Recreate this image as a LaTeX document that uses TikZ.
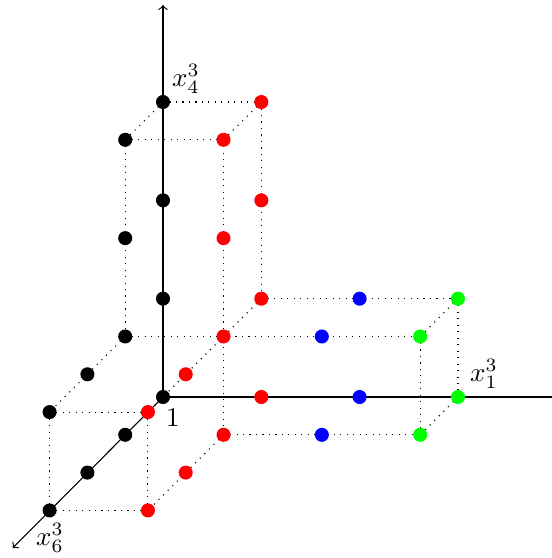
\documentclass[tikz,border=0pt]{standalone}
\begin{document}
\begin{tikzpicture}[x=0.37pt,y=-0.37pt,
  dot/.style={circle,inner sep=0pt,minimum size=5.2pt,draw=none},
  guide/.style={dotted,line width=0.4pt},
  axis/.style={line width=0.4pt}]
\useasboundingbox (0,0) rectangle (552,558);
% grid coordinates (a = x1 direction, d = x6 direction, v = x4 direction)
\foreach \a/\d/\v in {0/0/3,0/1/3,0/0/2,0/1/2,0/0/1,0/1/1,0/2/1,0/3/1,0/0/0,0/1/0,0/2/0,0/3/0,
  1/0/3,1/1/3,1/0/2,1/1/2,1/0/1,1/1/1,1/2/1,1/3/1,1/0/0,1/1/0,1/2/0,1/3/0,
  2/0/1,2/1/1,2/0/0,2/1/0,3/0/1,3/1/1,3/0/0,3/1/0}
  \coordinate (p\a\d\v) at ({163+98.33*\a-37.8*\d},{397+37.8*\d-98.33*\v});
\coordinate (top) at (163,5);
\coordinate (right) at (552,397);
\coordinate (diag) at (12.7,548);
% axes
\draw[axis,->] (p000) -- (top);
\draw[axis] (p000) -- (right);
\draw[axis,->] (p000) -- (diag);
% dotted guides
\draw[guide] (p003) -- (p103);
\draw[guide] (p013) -- (p113);
\draw[guide] (p101) -- (p301);
\draw[guide] (p011) -- (p311);
\draw[guide] (p110) -- (p310);
\draw[guide] (p031) -- (p131);
\draw[guide] (p030) -- (p130);
\draw[guide] (p003) -- (p013);
\draw[guide] (p103) -- (p113);
\draw[guide] (p101) -- (p131);
\draw[guide] (p011) -- (p031);
\draw[guide] (p110) -- (p130);
\draw[guide] (p301) -- (p311);
\draw[guide] (p300) -- (p310);
\draw[guide] (p013) -- (p011);
\draw[guide] (p113) -- (p110);
\draw[guide] (p103) -- (p101);
\draw[guide] (p031) -- (p030);
\draw[guide] (p131) -- (p130);
\draw[guide] (p301) -- (p300);
\draw[guide] (p311) -- (p310);
% dots
\foreach \a/\d/\v/\c in {0/0/3/black,0/1/3/black,0/0/2/black,0/1/2/black,0/0/1/black,0/1/1/black,0/2/1/black,0/3/1/black,0/0/0/black,0/1/0/black,0/2/0/black,0/3/0/black,
  1/0/3/red,1/1/3/red,1/0/2/red,1/1/2/red,1/0/1/red,1/1/1/red,1/2/1/red,1/3/1/red,1/0/0/red,1/1/0/red,1/2/0/red,1/3/0/red,
  2/0/1/blue,2/1/1/blue,2/0/0/blue,2/1/0/blue,3/0/1/green,3/1/1/green,3/0/0/green,3/1/0/green}
  \node[dot,fill=\c] (n\a\d\v) at (p\a\d\v) {};
% labels
\node (l4) at (186,79) {$x_4^3$};
\node (l1) at (484,374) {$x_1^3$};
\node (l6) at (50,538) {$x_6^3$};
\node (one) at (173,418) {$1$};
\end{tikzpicture}
\end{document}
